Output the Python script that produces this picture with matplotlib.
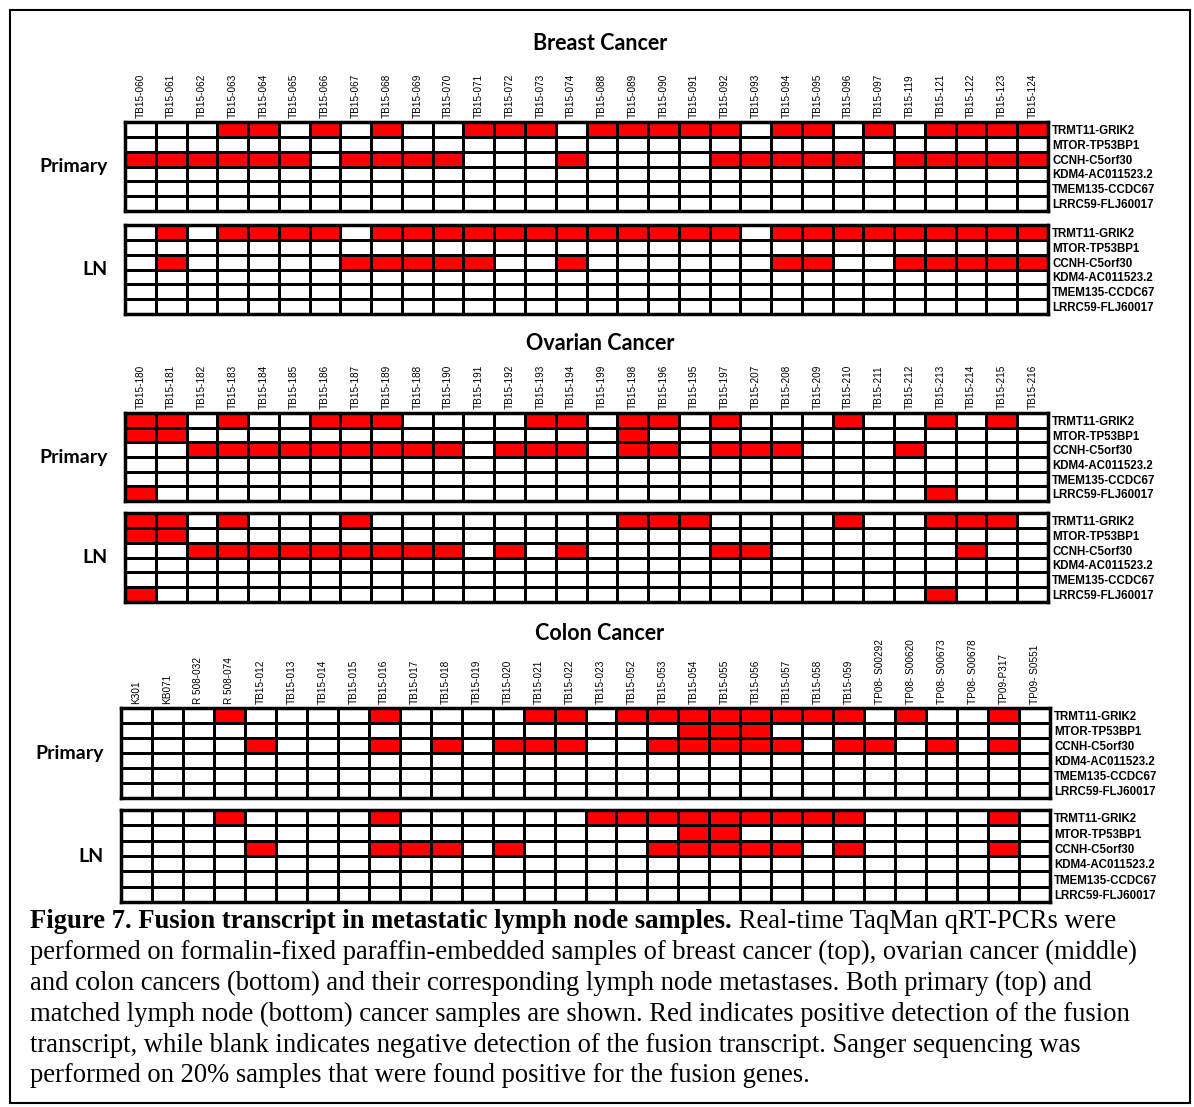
import numpy as np
import matplotlib
matplotlib.use("Agg")
import matplotlib.pyplot as plt
from matplotlib.colors import ListedColormap
from matplotlib.patches import Rectangle

W, H = 1194, 1107

genes = ["TRMT11-GRIK2", "MTOR-TP53BP1", "CCNH-C5orf30",
         "KDM4-AC011523.2", "TMEM135-CCDC67", "LRRC59-FLJ60017"]

# ---- breast ----
breast_samples = ["TB15-060", "TB15-061", "TB15-062", "TB15-063", "TB15-064",
                  "TB15-065", "TB15-066", "TB15-067", "TB15-068", "TB15-069",
                  "TB15-070", "TB15-071", "TB15-072", "TB15-073", "TB15-074",
                  "TB15-088", "TB15-089", "TB15-090", "TB15-091", "TB15-092",
                  "TB15-093", "TB15-094", "TB15-095", "TB15-096", "TB15-097",
                  "TB15-119", "TB15-121", "TB15-122", "TB15-123", "TB15-124"]
breast_primary = [
    [0,0,0,1,1,0,1,0,1,0,0,1,1,1,0, 1,1,1,1,1,0,1,1,0,1,0,1,1,1,1],
    [0]*30,
    [1,1,1,1,1,1,0,1,1,1,1,0,0,0,1, 0,0,0,0,1,1,1,1,1,0,1,1,1,1,1],
    [0]*30,
    [0]*30,
    [0]*30,
]
breast_ln = [
    [0,1,0,1,1,1,1,0,1,1,1,1,1,1,1, 1,1,1,1,1,0,1,1,1,1,1,1,1,1,1],
    [0]*30,
    [0,1,0,0,0,0,0,1,1,1,1,1,0,0,1, 0,0,0,0,0,0,1,1,0,0,1,1,1,1,1],
    [0]*30,
    [0]*30,
    [0]*30,
]

# ---- ovarian ----
ovarian_samples = ["TB15-180", "TB15-181", "TB15-182", "TB15-183", "TB15-184",
                   "TB15-185", "TB15-186", "TB15-187", "TB15-189", "TB15-188",
                   "TB15-190", "TB15-191", "TB15-192", "TB15-193", "TB15-194",
                   "TB15-199", "TB15-198", "TB15-196", "TB15-195", "TB15-197",
                   "TB15-207", "TB15-208", "TB15-209", "TB15-210", "TB15-211",
                   "TB15-212", "TB15-213", "TB15-214", "TB15-215", "TB15-216"]
ovarian_primary = [
    [1,1,0,1,0,0,1,1,1,0,0,0,0,1,1, 0,1,1,0,1,0,0,0,1,0,0,1,0,1,0],
    [1,1,0,0,0,0,0,0,0,0,0,0,0,0,0, 0,1,0,0,0,0,0,0,0,0,0,0,0,0,0],
    [0,0,1,1,1,1,1,1,1,1,1,0,1,1,1, 0,1,1,0,1,1,1,0,0,0,1,0,0,0,0],
    [0]*30,
    [0]*30,
    [1,0,0,0,0,0,0,0,0,0,0,0,0,0,0, 0,0,0,0,0,0,0,0,0,0,0,1,0,0,0],
]
ovarian_ln = [
    [1,1,0,1,0,0,0,1,0,0,0,0,0,0,0, 0,1,1,1,0,0,0,0,1,0,0,1,1,1,0],
    [1,1,0,0,0,0,0,0,0,0,0,0,0,0,0, 0,0,0,0,0,0,0,0,0,0,0,0,0,0,0],
    [0,0,1,1,1,1,1,1,1,1,1,0,1,0,1, 0,0,0,0,1,1,0,0,0,0,0,0,1,0,0],
    [0]*30,
    [0]*30,
    [1,0,0,0,0,0,0,0,0,0,0,0,0,0,0, 0,0,0,0,0,0,0,0,0,0,0,1,0,0,0],
]

# ---- colon ----
colon_samples = ["K301", "KB071", "R 508-032", "R 508-074", "TB15-012",
                 "TB15-013", "TB15-014", "TB15-015", "TB15-016", "TB15-017",
                 "TB15-018", "TB15-019", "TB15-020", "TB15-021", "TB15-022",
                 "TB15-023", "TB15-052", "TB15-053", "TB15-054", "TB15-055",
                 "TB15-056", "TB15-057", "TB15-058", "TB15-059", "TP08- S00292",
                 "TP08- S00620", "TP08- S00673", "TP08- S00678", "TP09-P317", "TP09- S0551"]
colon_primary = [
    [0,0,0,1,0,0,0,0,1,0,0,0,0,1,1, 0,1,1,1,1,1,1,1,1,0,1,0,0,1,0],
    [0,0,0,0,0,0,0,0,0,0,0,0,0,0,0, 0,0,0,1,1,1,0,0,0,0,0,0,0,0,0],
    [0,0,0,0,1,0,0,0,1,0,1,0,1,1,1, 0,0,1,1,1,1,1,0,1,1,0,1,0,1,0],
    [0]*30,
    [0]*30,
    [0]*30,
]
colon_ln = [
    [0,0,0,1,0,0,0,0,1,0,0,0,0,0,0, 1,1,1,1,1,1,1,1,1,0,0,0,0,1,0],
    [0,0,0,0,0,0,0,0,0,0,0,0,0,0,0, 0,0,0,1,1,0,0,0,0,0,0,0,0,0,0],
    [0,0,0,0,1,0,0,0,1,1,1,0,1,0,0, 0,0,1,1,1,1,1,0,1,0,0,0,0,1,0],
    [0]*30,
    [0]*30,
    [0]*30,
]

caption_bold = "Figure 7. Fusion transcript in metastatic lymph node samples."
caption_lines = [
    " Real-time TaqMan qRT-PCRs were",
    "performed on formalin-fixed paraffin-embedded samples of breast cancer (top), ovarian cancer (middle)",
    "and colon cancers (bottom) and their corresponding lymph node metastases. Both primary (top) and",
    "matched lymph node (bottom) cancer samples are shown. Red indicates positive detection of the fusion",
    "transcript, while blank indicates negative detection of the fusion transcript. Sanger sequencing was",
    "performed on 20% samples that were found positive for the fusion genes.",
]

cmap = ListedColormap(["white", "#ff0000"])
sans = "Liberation Sans"
title_font = "Lato"


def px_axes(fig, left, top, right, bottom):
    return fig.add_axes([left / W, 1 - bottom / H, (right - left) / W, (bottom - top) / H])


def draw_grid(ax, matrix, samples, label, show_cols):
    data = np.array(matrix)
    nr, nc = data.shape
    ax.pcolormesh(data, cmap=cmap, vmin=0, vmax=1, edgecolors="black", linewidth=1.8)
    ax.set_xlim(0, nc)
    ax.set_ylim(nr, 0)
    ax.yaxis.tick_right()
    ax.set_yticks(np.arange(nr) + 0.5)
    ax.set_yticklabels(genes, fontsize=8.3, fontweight="bold", family=sans)
    if show_cols:
        ax.xaxis.tick_top()
        ax.set_xticks(np.arange(nc) + 0.5)
        ax.set_xticklabels(samples, rotation=90, fontsize=7.2, family=sans)
    else:
        ax.set_xticks([])
    ax.tick_params(length=0, pad=3)
    for s in ax.spines.values():
        s.set_linewidth(2.5)
    ax.text(-17 / (ax.get_position().width * W), 0.5, label, transform=ax.transAxes,
            ha="right", va="center", fontsize=14, fontweight="bold", family=title_font)


fig = plt.figure(figsize=(W / 100, H / 100), dpi=100)

panels = [
    ("Breast Cancer", 44, breast_samples, breast_primary, breast_ln,
     (125, 122, 1048, 211), (125, 225, 1048, 314)),
    ("Ovarian Cancer", 344, ovarian_samples, ovarian_primary, ovarian_ln,
     (125, 413, 1048, 501), (125, 513, 1048, 602)),
    ("Colon Cancer", 633, colon_samples, colon_primary, colon_ln,
     (121, 708, 1050, 798), (121, 810, 1050, 902)),
]
for title, ty, samples, prim, ln, box_p, box_l in panels:
    fig.text(600 / W, 1 - ty / H, title, ha="center", va="center",
             fontsize=15.5, fontweight="bold", family=title_font)
    draw_grid(px_axes(fig, *box_p), prim, samples, "Primary", True)
    draw_grid(px_axes(fig, *box_l), ln, samples, "LN", False)

# caption
serif = "Liberation Serif"
fig.canvas.draw()
renderer = fig.canvas.get_renderer()
y0 = 922
t = fig.text(30 / W, 1 - y0 / H, caption_bold, ha="left", va="center",
             fontsize=19.2, fontweight="bold", family=serif)
bb = t.get_window_extent(renderer)
fig.text(bb.x1 / W, 1 - y0 / H, caption_lines[0], ha="left", va="center",
         fontsize=19.2, family=serif)
for i, line in enumerate(caption_lines[1:], start=1):
    fig.text(30 / W, 1 - (y0 + i * 30.8) / H, line, ha="left", va="center",
             fontsize=19.2, family=serif)

fig.patches.append(Rectangle((10 / W, 1 - 1103 / H), 1180 / W, 1093 / H,
                             transform=fig.transFigure, fill=False,
                             edgecolor="black", linewidth=1.5))

fig.savefig("out.png", dpi=100)
